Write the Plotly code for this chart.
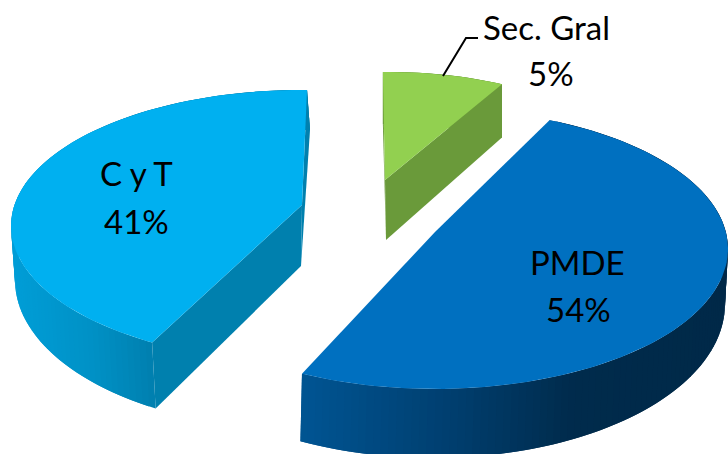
import math
import plotly.graph_objects as go

categories = ["PMDE", "C y T", "Sec. Gral"]
percent_values = [54, 41, 5]
top_colors = ["#0070C0", "#00B0F0", "#92D050"]
cut_colors = [None, "#0080AE", "#6A9A3A"]

# placement of each exploded piece (pixel space of the 728x454 page)
pieces = {
    "PMDE": dict(apex=(435, 232), apex_low=None, e=(435, 249, 293, 140), low=(433, 304, 292, 154), rot=0,
                 stops=[(302, (0, 84, 146)), (450, (0, 62, 110)), (570, (0, 43, 76)), (728, (0, 41, 72))]),
    "C y T": dict(apex=(302, 205), apex_low=(301, 266), e=(302, 226, 291, 136), low=(305, 280, 290, 150), rot=-4,
                  stops=[(15, (0, 157, 214)), (90, (0, 145, 198)), (156, (0, 126, 173))]),
    "Sec. Gral": dict(apex=(385, 180), apex_low=(386, 240), e=(390, 208, 270, 136), low=(390, 274, 270, 150), rot=-1.5,
                      stops=[(385, (106, 154, 58)), (502, (106, 154, 58))]),
}
START_ANGLE = 67.0


def sweep(phi):
    # foreshortening of the tilted disc: angle in the pie -> angle on the drawn ellipse
    p = math.radians(phi)
    return phi + 25.6 * math.sin(p) - 2.05 * (1 - math.cos(p))


def ring(e, t):
    a = math.radians(t)
    return (e[0] + e[2] * math.cos(a), e[1] - e[3] * math.sin(a))


def colour(stops, x):
    if x <= stops[0][0]:
        c = stops[0][1]
    elif x >= stops[-1][0]:
        c = stops[-1][1]
    else:
        for (x0, c0), (x1, c1) in zip(stops, stops[1:]):
            if x0 <= x <= x1:
                f = (x - x0) / (x1 - x0)
                c = tuple(c0[i] + (c1[i] - c0[i]) * f for i in range(3))
                break
    return "rgb(%d,%d,%d)" % tuple(round(v) for v in c)


def poly(fig, pts, color):
    xs = [p[0] for p in pts] + [pts[0][0]]
    ys = [p[1] for p in pts] + [pts[0][1]]
    fig.add_trace(go.Scatter(x=xs, y=ys, mode="lines", fill="toself", fillcolor=color,
                             line=dict(width=0), hoverinfo="skip", showlegend=False))


# angular range of every slice from its share
ranges = {}
cum = 0.0
for name, v in zip(categories, percent_values):
    phi0 = cum * 3.6
    phi1 = (cum + v) * 3.6
    cum += v
    rot = pieces[name]["rot"]
    ranges[name] = (START_ANGLE - sweep(phi0) + rot, START_ANGLE - sweep(phi1) + rot)

fig = go.Figure()

for name in ["Sec. Gral", "C y T", "PMDE"]:
    i = categories.index(name)
    P = pieces[name]
    t0, t1 = ranges[name]
    n = max(4, int(abs(t0 - t1) / 1.5))
    ts = [t0 + (t1 - t0) * k / n for k in range(n + 1)]
    # outer wall: strips overlap the next one so no seams show
    for k in range(n):
        a, b = ts[k], ts[min(k + 2, n)]
        pts = [ring(P["e"], a), ring(P["e"], b), ring(P["low"], b), ring(P["low"], a)]
        poly(fig, pts, colour(P["stops"], sum(p[0] for p in pts) / 4))
    # cut faces
    if P["apex_low"]:
        poly(fig, [ring(P["e"], t0), P["apex"], P["apex_low"], ring(P["low"], t0)], cut_colors[i])
        poly(fig, [ring(P["e"], t1), P["apex"], P["apex_low"], ring(P["low"], t1)], cut_colors[i])
    # top face
    poly(fig, [P["apex"]] + [ring(P["e"], t) for t in ts], top_colors[i])

# leader line of the small slice
leader_x = [443, 466, 478]
leader_y = [76, 38, 38]
fig.add_trace(go.Scatter(x=leader_x, y=leader_y, mode="lines", line=dict(color="black", width=2),
                         hoverinfo="skip", showlegend=False))

label_xy = {"PMDE": (577, 262, 578, 309), "C y T": (136, 173, 136, 221), "Sec. Gral": (546, 27, 551, 73)}
for name, v in zip(categories, percent_values):
    x1, y1, x2, y2 = label_xy[name]
    fig.add_annotation(x=x1, y=y1, text=name, showarrow=False, font=dict(family="Lato", size=33, color="black"))
    fig.add_annotation(x=x2, y=y2, text=f"{v}%", showarrow=False, font=dict(family="Lato", size=33, color="black"))

fig.update_layout(width=728, height=454, margin=dict(l=0, r=0, t=0, b=0),
                  paper_bgcolor="white", plot_bgcolor="white",
                  xaxis=dict(range=[0, 728], visible=False, fixedrange=True),
                  yaxis=dict(range=[454, 0], visible=False, fixedrange=True))
fig.write_html("out.html", config=dict(displayModeBar=False),
               post_script="document.body.style.margin='0';document.body.style.overflow='hidden';")
